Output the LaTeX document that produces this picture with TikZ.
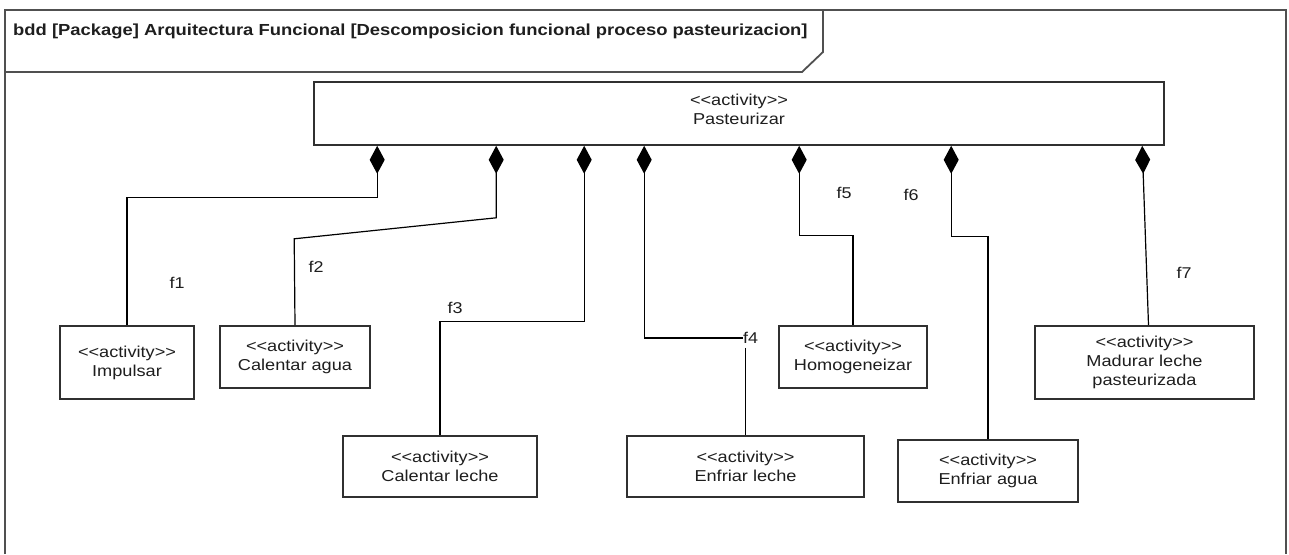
\documentclass[tikz,border=0pt]{standalone}
\usepackage{fontspec}
\usetikzlibrary{arrows.meta}
\newfontfamily\umlfont[FakeStretch=1.15]{Liberation Sans}
\definecolor{frameline}{HTML}{505050}
\definecolor{boxline}{HTML}{303030}
\definecolor{inktext}{HTML}{1E1E1E}
\tikzset{
  activitybox/.style={draw=boxline, line width=1.6pt, fill=white, align=center,
    inner sep=2pt, text=inktext, font=\umlfont\fontsize{15.8}{19}\selectfont},
  composition/.style={draw=black, line width=1.2pt,
    {Diamond[length=28pt,width=15pt,fill=black]}-},
  link/.style={draw=black, line width=1.2pt},
  rolelabel/.style={inner sep=0pt, text=inktext, font=\umlfont\fontsize{15.6}{17}\selectfont},
}
\begin{document}
\begin{tikzpicture}[x=1pt, y=-1pt]
  \useasboundingbox (0,0) rectangle (1289,554);
  % diagram frame and its heading tab
  \draw[frameline, line width=1.8pt] (5,554) -- (5,10) -- (1286,10) -- (1286,554);
  \draw[frameline, line width=1.8pt] (5,72) -- (802,72) -- (823,52) -- (823,10);
  \node[anchor=west, inner sep=0pt, text=inktext,
        font=\umlfont\bfseries\fontsize{16}{18}\selectfont] (title) at (13,31)
    {bdd [Package] Arquitectura Funcional [Descomposicion funcional proceso pasteurizacion]};

  % parent activity; the deeper text box lifts its two lines above the middle
  \node[activitybox, minimum width=850pt, minimum height=63pt, text depth=9pt] (P) at (739,113.5)
    {<<activity>>\\Pasteurizar};

  % decomposed activities
  \node[activitybox, minimum width=134pt, minimum height=73pt] (imp) at (127,362.5) {<<activity>>\\Impulsar};
  \node[activitybox, minimum width=150pt, minimum height=62pt] (cag) at (295,357) {<<activity>>\\Calentar agua};
  \node[activitybox, minimum width=194pt, minimum height=61pt] (cle) at (440,466.5) {<<activity>>\\Calentar leche};
  \node[activitybox, minimum width=237pt, minimum height=61pt] (ele) at (745.5,466.5) {<<activity>>\\Enfriar leche};
  \node[activitybox, minimum width=148pt, minimum height=62pt] (hom) at (853,357) {<<activity>>\\Homogeneizar};
  \node[activitybox, minimum width=180pt, minimum height=62pt] (eag) at (988,471) {<<activity>>\\Enfriar agua};
  \node[activitybox, minimum width=219pt, minimum height=73pt] (mad) at (1144.5,362.5) {<<activity>>\\Madurar leche\\pasteurizada};

  % role names
  \node[rolelabel] (l1) at (177,283) {f1};
  \node[rolelabel] (l2) at (316,267) {f2};
  \node[rolelabel] (l3) at (455,308) {f3};
  \node[rolelabel, anchor=west] (l4) at (743,338) {f4};
  \node[rolelabel] (l5) at (844,193) {f5};
  \node[rolelabel] (l6) at (911,195) {f6};
  \node[rolelabel] (l7) at (1184,273) {f7};

  % composition links
  \draw[composition] ([xshift=64pt]P.south west) -- ++(0,52) -| (imp.north);
  \draw[composition] ([xshift=183pt]P.south west) -- ++(0,72) -- ++(-202,21) -- (cag.north);
  \draw[composition] ([xshift=271pt]P.south west) -- ++(0,176) -| (cle.north);
  \draw[composition] ([xshift=331pt]P.south west) |- (l4.west);
  \draw[link] ([yshift=-4pt]l4.south -| ele.north) -- (ele.north);
  \draw[composition] ([xshift=486pt]P.south west) -- ++(0,90) -| (hom.north);
  \draw[composition] ([xshift=638pt]P.south west) -- ++(0,91) -| (eag.north);
  \draw[composition] ([xshift=829pt]P.south west) -- ([xshift=4pt]mad.north);
\end{tikzpicture}
\end{document}
